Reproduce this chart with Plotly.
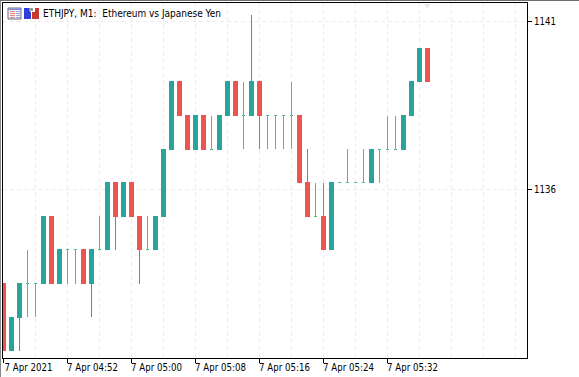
import plotly.graph_objects as go
from datetime import datetime, timedelta

START = datetime(2021, 4, 7, 4, 44)
minutes = list(range(54))

opens = [1133.2, 1131.2, 1132.2, 1133.2, 1133.2, 1133.2, 1135.2, 1133.2, 1134.2, 1134.2,
         1134.2, 1133.2, 1134.2, 1134.2, 1136.2, 1135.2, 1136.2, 1135.2, 1134.2, 1134.2,
         1135.2, 1137.2, 1139.2, 1138.2, 1137.2, 1138.2, 1137.2, 1137.2, 1138.2, 1139.2,
         1138.2, 1138.2, 1139.2, 1138.2, 1138.2, 1138.2, 1138.2, 1138.2, 1136.2, 1135.2,
         1135.2, 1134.2, 1136.2, 1136.2, 1136.2, 1136.2, 1136.2, 1137.2, 1137.2, 1137.2,
         1137.2, 1138.2, 1139.2, 1140.2]
highs = [1133.2, 1132.2, 1133.2, 1134.2, 1133.2, 1135.2, 1135.2, 1134.2, 1134.2, 1134.2,
         1134.2, 1134.2, 1135.2, 1136.2, 1136.2, 1136.2, 1136.2, 1135.2, 1135.2, 1135.2,
         1137.2, 1139.2, 1139.2, 1138.2, 1138.2, 1138.2, 1138.2, 1138.2, 1139.2, 1139.2,
         1139.2, 1141.2, 1139.2, 1138.2, 1138.2, 1138.2, 1139.2, 1138.2, 1137.2, 1136.2,
         1136.2, 1136.2, 1136.2, 1137.2, 1136.2, 1137.2, 1137.2, 1137.2, 1138.2, 1138.2,
         1138.2, 1139.2, 1140.2, 1140.2]
lows = [1131.2, 1131.2, 1131.2, 1132.2, 1132.2, 1133.2, 1133.2, 1133.2, 1133.2, 1133.2,
        1133.2, 1132.2, 1134.2, 1134.2, 1134.2, 1135.2, 1135.2, 1133.2, 1134.2, 1134.2,
        1135.2, 1137.2, 1138.2, 1137.2, 1137.2, 1137.2, 1137.2, 1137.2, 1138.2, 1138.2,
        1137.2, 1138.2, 1137.2, 1137.2, 1137.2, 1137.2, 1137.2, 1136.2, 1135.2, 1135.2,
        1134.2, 1134.2, 1136.2, 1136.2, 1136.2, 1136.2, 1136.2, 1136.2, 1137.2, 1137.2,
        1137.2, 1138.2, 1139.2, 1139.2]
closes = [1131.2, 1132.2, 1133.2, 1133.2, 1133.2, 1135.2, 1133.2, 1134.2, 1134.2, 1134.2,
          1133.2, 1134.2, 1134.2, 1136.2, 1135.2, 1136.2, 1135.2, 1134.2, 1134.2, 1135.2,
          1137.2, 1139.2, 1138.2, 1137.2, 1138.2, 1137.2, 1137.2, 1138.2, 1139.2, 1138.2,
          1138.2, 1139.2, 1138.2, 1138.2, 1138.2, 1138.2, 1138.2, 1136.2, 1135.2, 1135.2,
          1134.2, 1136.2, 1136.2, 1136.2, 1136.2, 1136.2, 1137.2, 1137.2, 1137.2, 1137.2,
          1138.2, 1139.2, 1140.2, 1139.2]
y_ticks = [1141, 1136]
x_tick_minutes = [0, 8, 16, 24, 32, 40, 48]
x_tick_labels = ["7 Apr 2021", "7 Apr 04:52", "7 Apr 05:00", "7 Apr 05:08",
                 "7 Apr 05:16", "7 Apr 05:24", "7 Apr 05:32"]
grid_minutes = [4, 12, 20, 28, 36, 44, 52, 56, 60, 64]

TEAL, RED, DOJI = "#26a69a", "#ef5350", "#5ab58b"
GRID = "#ececec"
DASH = "4px,3px"
FONT = "DejaVu Sans Condensed"


def t(m):
    return START + timedelta(minutes=m)


W, H = 579, 377
L, R, T, B = 3, 527, 3, 358
CENTER0 = 3.5  # pixel of the first bar's centre
PX_PER_UNIT = 33.6

doji = [i for i in minutes if opens[i] == closes[i]]
solid = [i for i in minutes if opens[i] != closes[i]]


def candles(idx, up, down):
    return go.Candlestick(
        x=[t(i) for i in idx],
        open=[opens[i] for i in idx], high=[highs[i] for i in idx],
        low=[lows[i] for i in idx], close=[closes[i] for i in idx],
        increasing=dict(line=dict(color=up, width=1), fillcolor=up),
        decreasing=dict(line=dict(color=down, width=1), fillcolor=down),
        whiskerwidth=0, showlegend=False,
    )


fig = go.Figure([candles(solid, TEAL, RED), candles(doji, DOJI, DOJI)])

x0 = START - timedelta(seconds=60 * (CENTER0 - L) / 8)
x1 = START + timedelta(seconds=60 * (R - CENTER0) / 8)
axis_common = dict(showline=True, linecolor="#000000", linewidth=1, mirror=True,
                   ticks="outside", ticklen=4, tickcolor="#000000", tickwidth=1,
                   showgrid=True, gridcolor=GRID, griddash=DASH, gridwidth=1,
                   zeroline=False, automargin=False,
                   tickfont=dict(family=FONT, size=9.6, color="#000000"))
fig.update_xaxes(
    type="date", range=[x0, x1], rangeslider_visible=False,
    tickmode="array", tickvals=[t(m) for m in x_tick_minutes], ticktext=x_tick_labels,
    ticklabelshift=25, ticklabelstandoff=-4, tickangle=0,
    minor=dict(tickmode="array", tickvals=[t(m) for m in grid_minutes],
               showgrid=True, gridcolor=GRID, griddash=DASH, gridwidth=1, ticks=""),
    **axis_common,
)
fig.update_yaxes(
    range=[1136 - (B - 189.5) / PX_PER_UNIT, 1141 + (21.5 - T) / PX_PER_UNIT],
    side="right", tickmode="array", tickvals=y_ticks, ticktext=[str(v) for v in y_ticks],
    **axis_common,
)


def px(x0_, y0_, x1_, y1_, color, line=None):
    return dict(type="rect", xref="paper", yref="paper",
                x0=(x0_ - L) / (R - L), x1=(x1_ - L) / (R - L),
                y0=(B - y1_) / (B - T), y1=(B - y0_) / (B - T),
                fillcolor=color, line=dict(color=line or color, width=1 if line else 0), layer="above")


shapes = [
    px(0, 0, W, 1, "#6e6e6e"),
    px(0, 1, 1, H, "#8a8a8a"),
    # window icons
    px(8, 8, 21, 19, "#f4f4f8", "#6d6d80"),
    px(8.5, 8.5, 21, 10, "#7f84d8"),
    px(10, 11, 15, 12, "#e8857c"), px(10, 13, 15, 14, "#e8857c"), px(10, 15, 15, 16, "#e8857c"), px(10, 17, 15, 18, "#e8857c"),
    px(16, 11, 20, 12, "#9fa8da"), px(16, 13, 20, 14, "#9fa8da"), px(16, 15, 20, 16, "#9fa8da"), px(16, 17, 20, 18, "#9fa8da"),
    px(24, 8, 30, 19, "#2f3fd8"), px(30, 12, 31, 19, "#2f3fd8"),
    px(29, 8, 33, 11, "#9a9a9a"),
    px(32, 12, 39, 19, "#c9382c"), px(35, 8, 39, 13, "#c9382c"),
    dict(type="path", xref="paper", yref="paper", layer="below",
         path=f"M {(423.5 - L) / (R - L)} {(B - 4) / (B - T)} L {(431 - L) / (R - L)} {(B - 4) / (B - T)} L {(427.3 - L) / (R - L)} {(B - 8.5) / (B - T)} Z",
         fillcolor="#f0e6f2", line=dict(width=0)),
]

fig.update_layout(
    width=W, height=H, autosize=False,
    margin=dict(l=L, r=W - R, t=T, b=H - B, pad=0),
    paper_bgcolor="#ffffff", plot_bgcolor="#ffffff",
    boxgap=0.4, showlegend=False,
    shapes=shapes,
    annotations=[dict(text="ETHJPY, M1:  Ethereum vs Japanese Yen", xref="paper", yref="paper",
                      x=(44 - L) / (R - L), y=(B - 13.5) / (B - T), xanchor="left", yanchor="middle",
                      xshift=-3, showarrow=False, font=dict(family=FONT, size=10, color="#000000"))],
)
fig.write_html("out.html", config={"displayModeBar": False},
               post_script="document.body.style.margin='0';document.documentElement.style.overflow='hidden';"
                           "document.querySelectorAll('.boxes path').forEach(p=>p.style.shapeRendering='crispEdges');")
